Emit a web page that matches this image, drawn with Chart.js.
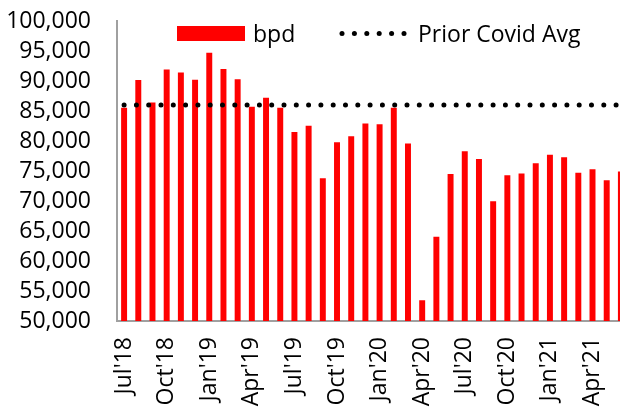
<!DOCTYPE html>
<html lang="en">
<head>
<meta charset="UTF-8" />
<title>bpd vs Prior Covid Avg</title>
<script src="https://cdn.jsdelivr.net/npm/chart.js"></script>
<style>
    html, body {
        margin: 0;
        padding: 0;
        background: #ffffff;
        overflow: hidden;
    }

    #wrap {
        width: 628px;
        height: 410px;
    }
</style>
</head>
<body>
<div id="wrap"><canvas id="bpdChart"></canvas></div>
<script>
    // monthly data, Jul'18 - Jun'21
    const months = [
        "Jul'18", "Aug'18", "Sep'18", "Oct'18", "Nov'18", "Dec'18",
        "Jan'19", "Feb'19", "Mar'19", "Apr'19", "May'19", "Jun'19",
        "Jul'19", "Aug'19", "Sep'19", "Oct'19", "Nov'19", "Dec'19",
        "Jan'20", "Feb'20", "Mar'20", "Apr'20", "May'20", "Jun'20",
        "Jul'20", "Aug'20", "Sep'20", "Oct'20", "Nov'20", "Dec'20",
        "Jan'21", "Feb'21", "Mar'21", "Apr'21", "May'21", "Jun'21"
    ];

    const bpd = [
        85550, 90170, 86400, 91900, 91400, 90200,
        94700, 92000, 90300, 85700, 87200, 85550,
        81500, 82550, 73800, 79800, 80800, 82900,
        82800, 85550, 79600, 53450, 64050, 74500,
        78300, 77000, 69950, 74300, 74600, 76300,
        77700, 77300, 74700, 75300, 73450, 74900
    ];

    const priorCovidAvg = [
        86000, 86000, 86000, 86000, 86000, 86000,
        86000, 86000, 86000, 86000, 86000, 86000,
        86000, 86000, 86000, 86000, 86000, 86000,
        86000, 86000, 86000, 86000, 86000, 86000,
        86000, 86000, 86000, 86000, 86000, 86000,
        86000, 86000, 86000, 86000, 86000, 86000
    ];

    const yTicks = { min: 50000, max: 100000, step: 5000 };

    const FONT = '"Open Sans", "Liberation Sans", sans-serif';

    // legend sits inside the plot, like in the spreadsheet original
    const legendInPlot = {
        id: 'legendInPlot',
        afterDatasetsDraw(chart) {
            const ctx = chart.ctx;
            const ds = chart.data.datasets;
            ctx.save();
            ctx.font = '23px ' + FONT;
            ctx.textBaseline = 'alphabetic';

            ctx.fillStyle = ds[0].backgroundColor;
            ctx.fillRect(177, 26, 68, 15);
            ctx.fillStyle = '#000';
            ctx.fillText(ds[0].label, 253, 42);

            ctx.fillStyle = ds[1].borderColor;
            for (let i = 0; i < 6; i++) {
                ctx.beginPath();
                ctx.arc(342 + i * 12.4, 33.5, 2.5, 0, Math.PI * 2);
                ctx.fill();
            }
            ctx.fillStyle = '#000';
            ctx.fillText(ds[1].label, 418, 42);
            ctx.restore();
        }
    };

    new Chart(document.getElementById('bpdChart'), {
        type: 'bar',
        data: {
            labels: months,
            datasets: [
                {
                    label: 'bpd',
                    data: bpd,
                    backgroundColor: '#ff0000',
                    borderWidth: 0,
                    barPercentage: 0.42,
                    categoryPercentage: 1.0,
                    order: 1
                },
                {
                    type: 'line',
                    label: 'Prior Covid Avg',
                    data: priorCovidAvg,
                    borderColor: '#000000',
                    borderWidth: 5,
                    borderDash: [0, 12.3],
                    borderCapStyle: 'round',
                    pointRadius: 0,
                    fill: false,
                    order: 0
                }
            ]
        },
        options: {
            responsive: true,
            maintainAspectRatio: false,
            animation: false,
            layout: {
                padding: { top: 21, right: 0, left: 0, bottom: 0 }
            },
            plugins: {
                legend: { display: false },
                tooltip: { enabled: false }
            },
            scales: {
                x: {
                    grid: { display: false, drawTicks: false },
                    border: { display: true, color: '#a0a0a0', width: 2 },
                    ticks: {
                        autoSkip: false,
                        maxRotation: 90,
                        minRotation: 90,
                        padding: 16,
                        color: '#000',
                        font: { family: FONT, size: 23 },
                        callback: function (val, i) {
                            return i % 3 === 0 ? months[i] : '';
                        }
                    },
                    afterFit: s => {
                        s.height = 89;
                        s.paddingLeft = 0;
                        s.paddingRight = 0;
                    }
                },
                y: {
                    min: yTicks.min,
                    max: yTicks.max,
                    grid: { display: false, drawTicks: false },
                    border: { display: true, color: '#a0a0a0', width: 2 },
                    ticks: {
                        autoSkip: false,
                        stepSize: yTicks.step,
                        padding: 26,
                        color: '#000',
                        font: { family: FONT, size: 23 },
                        callback: v => v.toLocaleString('en-US')
                    },
                    afterFit: s => {
                        s.width = 117;
                        s.paddingTop = 0;
                        s.paddingBottom = 0;
                    }
                }
            }
        },
        plugins: [legendInPlot]
    });
</script>
</body>
</html>
